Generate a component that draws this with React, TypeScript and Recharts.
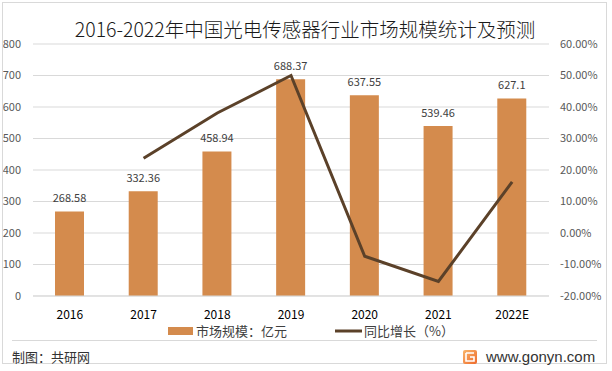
import React from 'react';
import { ComposedChart, Bar, Line, XAxis, YAxis, CartesianGrid, LabelList } from 'recharts';

const years = ['2016', '2017', '2018', '2019', '2020', '2021', '2022E'];
const marketSize = [268.58, 332.36, 458.94, 688.37, 637.55, 539.46, 627.1];
const growth = [null, 23.75, 38.09, 49.99, -7.38, -15.39, 16.25];
const leftTicks = [0, 100, 200, 300, 400, 500, 600, 700, 800];
const rightTicks = [-20, -10, 0, 10, 20, 30, 40, 50, 60];

const data = years.map((y, i) => ({ year: y, size: marketSize[i], growth: growth[i] }));

const BAR = '#D48B4D';
const LINE = '#5B4129';
const FONT = '"Noto Sans CJK SC", "Noto Sans", sans-serif';

export default function App() {
  return (
    <div style={{ position: 'absolute', left: 0, top: 0, width: 612, height: 371, background: '#fff', fontFamily: FONT }}>
      <ComposedChart
        width={612}
        height={371}
        data={data}
        margin={{ top: 44, right: 0, left: 0, bottom: 45 }}
      >
        <CartesianGrid vertical={false} stroke="#d9d9d9" yAxisId="left" />
        <XAxis
          dataKey="year"
          height={30}
          tickLine={false}
          axisLine={{ stroke: '#d9d9d9' }}
          tickMargin={8}
          tick={{ fontSize: 12, fill: '#000', fontFamily: FONT }}
          interval={0}
        />
        <YAxis
          yAxisId="left"
          width={33}
          domain={[0, 800]}
          ticks={leftTicks}
          tickLine={false}
          axisLine={false}
          tickMargin={6}
          tick={{ fontSize: 11, fill: '#595959', fontFamily: FONT }}
        />
        <YAxis
          yAxisId="right"
          orientation="right"
          width={63}
          domain={[-20, 60]}
          ticks={rightTicks}
          tickLine={false}
          axisLine={false}
          tickMargin={5}
          tickFormatter={(v: number) => v.toFixed(2) + '%'}
          tick={{ fontSize: 11, fill: '#595959', fontFamily: FONT, textAnchor: 'start' }}
        />
        <Bar yAxisId="left" dataKey="size" fill={BAR} barSize={29} isAnimationActive={false}>
          <LabelList
            dataKey="size"
            position="top"
            offset={9}
            style={{ fontSize: 11, fill: '#404040', fontFamily: FONT }}
          />
        </Bar>
        <Line
          yAxisId="right"
          dataKey="growth"
          type="linear"
          stroke={LINE}
          strokeWidth={3}
          dot={false}
          activeDot={false}
          isAnimationActive={false}
        />
      </ComposedChart>
      <svg
        width={612}
        height={371}
        style={{ position: 'absolute', left: 0, top: 0, pointerEvents: 'none' }}
      >
        <defs>
          <linearGradient id="logoGrad" x1="0" y1="0" x2="1" y2="1">
            <stop offset="0%" stopColor="#F9B56A" />
            <stop offset="100%" stopColor="#EE6A2C" />
          </linearGradient>
        </defs>
        <rect x={2.5} y={2.5} width={604} height={361} fill="none" stroke="#d9d9d9" />
        <text x={305} y={37} textAnchor="middle" fontSize={19.5} fontWeight={300} fill="#1a1a1a" fontFamily={FONT}>
          2016-2022年中国光电传感器行业市场规模统计及预测
        </text>
        <rect x={168} y={327} width={25} height={8} fill={BAR} />
        <text x={196} y={336} fontSize={13} fill="#404040" fontFamily={FONT}>市场规模：亿元</text>
        <line x1={335} y1={331} x2={362} y2={331} stroke={LINE} strokeWidth={3} />
        <text x={364} y={336} fontSize={13} fill="#404040" fontFamily={FONT}>同比增长（%）</text>
        <line x1={12} y1={340.5} x2={597} y2={340.5} stroke="#d9d9d9" />
        <text x={12} y={362} fontSize={13} fill="#333" fontFamily={FONT}>制图：共研网</text>
        <rect x={463} y={350} width={14} height={14} rx={2} fill="url(#logoGrad)" />
        <path d="M466 353 H474 M466 353 V361 H474 V357 H470" stroke="#fff" strokeWidth={1.6} fill="none" />
        <text x={486} y={362} fontSize={15} fill="#333" fontFamily='"Liberation Sans", Arial, sans-serif'>www.gonyn.com</text>
      </svg>
    </div>
  );
}
